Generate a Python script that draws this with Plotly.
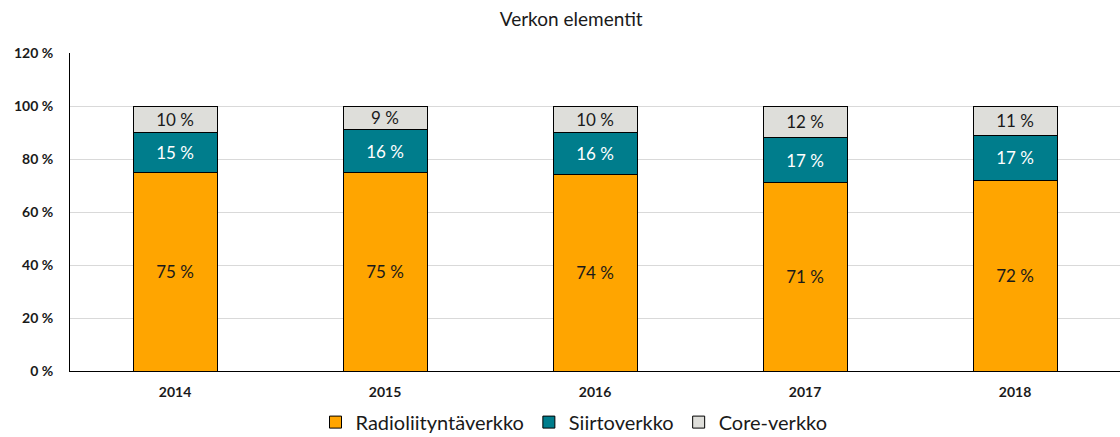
import plotly.graph_objects as go

years = ["2014", "2015", "2016", "2017", "2018"]
radio = [75, 75, 74, 71, 72]
siirto = [15, 16, 16, 17, 17]
core = [10, 9, 10, 12, 11]
y_ticks = [0, 20, 40, 60, 80, 100, 120]

FONT = "Lato, Open Sans, sans-serif"

series = [
    ("Radioliityntäverkko", radio, "#FFA500", "#1a1a1a"),
    ("Siirtoverkko", siirto, "#007D8C", "#FFFFFF"),
    ("Core-verkko", core, "#DEDEDA", "#1a1a1a"),
]

fig = go.Figure()
for name, vals, col, tcol in series:
    fig.add_trace(go.Bar(
        x=years, y=vals, name=name,
        marker=dict(color=col, line=dict(color="#000000", width=1)),
        text=[f"{v} %" for v in vals],
        textposition="inside", insidetextanchor="middle",
        textfont=dict(color=tcol, size=17, family=FONT),
        constraintext="none",
        width=0.4,
    ))

fig.update_layout(
    barmode="stack",
    width=1120, height=437,
    margin=dict(l=70, r=0, t=53, b=66, autoexpand=False),
    paper_bgcolor="white", plot_bgcolor="white",
    title=dict(text="Verkon elementit", x=0.51, xanchor="center", y=0.955, yanchor="middle",
               font=dict(size=19, color="#1a1a1a", family=FONT)),
    font=dict(family=FONT, color="#1a1a1a"),
    legend=dict(orientation="h", x=0.48, xanchor="center", y=-0.222, yanchor="bottom",
                font=dict(size=20, color="#1a1a1a", family=FONT), traceorder="normal",
                itemwidth=30, borderwidth=0),
    uniformtext=dict(mode=False),
)
fig.update_xaxes(
    showline=True, linecolor="#000000", linewidth=1,
    tickfont=dict(size=14, family=FONT, color="#1a1a1a", weight="bold"),
    ticks="", showgrid=False, ticklabelstandoff=8,
)
fig.update_yaxes(
    range=[0, 120], tickvals=y_ticks, ticktext=[f"{v} %" for v in y_ticks],
    showline=True, linecolor="#000000", linewidth=1,
    showgrid=True, gridcolor="#D9D9D9", gridwidth=1,
    tickfont=dict(size=14, family=FONT, color="#1a1a1a", weight="bold"),
    ticks="", ticklen=0, zeroline=False, ticklabelstandoff=13,
)

fig.write_html("out.html")
